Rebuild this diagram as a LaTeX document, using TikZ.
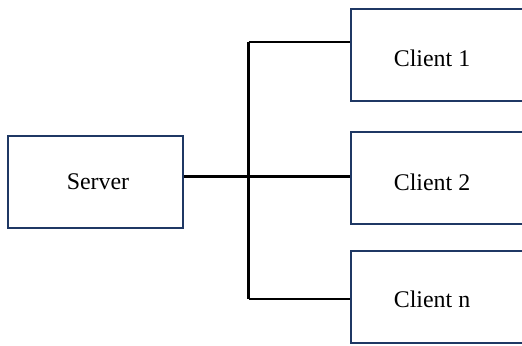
\documentclass[tikz,border=0pt]{standalone}
\usepackage{fontspec}
\setmainfont{Liberation Serif}
\definecolor{boxblue}{HTML}{1F3864}
\tikzset{
  box/.style={draw=boxblue, line width=2bp, fill=white, inner sep=0pt,
    minimum width=177bp, minimum height=92bp},
  boxtext/.style={font=\fontsize{24}{28}\selectfont, inner sep=0pt},
  wire/.style={line width=2.2bp, black}
}
\begin{document}
\begin{tikzpicture}[x=1bp,y=-1bp]
    \useasboundingbox (0,0) rectangle (522,345);
    \clip (0,0) rectangle (522,345);
    \node[box, minimum width=175bp] (server) at (95.5,182)
        [label={[boxtext, xshift=2.5bp]center:Server}] {};
    \node[box] (client1) at (439.5,55)
        [label={[boxtext, xshift=-7.5bp, yshift=-3bp]center:Client 1}] {};
    \node[box] (client2) at (439.5,178)
        [label={[boxtext, xshift=-7.5bp, yshift=-4bp]center:Client 2}] {};
    \node[box] (clientn) at (439.5,297)
        [label={[boxtext, xshift=-7.5bp, yshift=-2.5bp]center:Client n}] {};
    \coordinate (t1) at (248.5,42);
    \coordinate (t2) at (248.5,176.5);
    \coordinate (tn) at (248.5,299);
    \draw[wire] (t1) -- (tn);
    \draw[wire] (t2 -| server.east) -- (t2);
    \draw[wire] (t1) -- (t1 -| client1.west);
    \draw[wire] (t2) -- (t2 -| client2.west);
    \draw[wire] (tn) -- (tn -| clientn.west);
\end{tikzpicture}
\end{document}
